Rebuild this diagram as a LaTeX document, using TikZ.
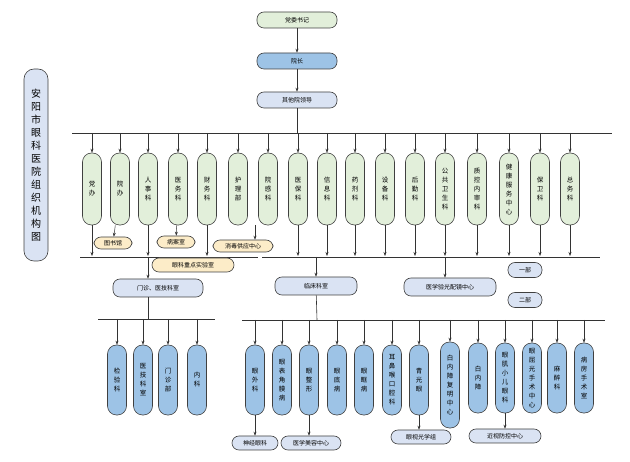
\documentclass[tikz,border=0pt]{standalone}
\usepackage{fontspec}
\setmainfont{Noto Sans CJK SC}
\usetikzlibrary{arrows.meta}
\definecolor{gr}{RGB}{226,239,218}
\definecolor{bl}{RGB}{157,195,230}
\definecolor{lb}{RGB}{218,227,243}
\definecolor{ye}{RGB}{252,236,200}
\begin{document}
\begin{tikzpicture}[x=1pt,y=-1pt,
 base/.style={draw=black!75,line width=0.6pt,rounded corners=7pt,inner sep=0pt,align=center,font=\fontsize{6}{7}\selectfont},
 hbox/.style={base,minimum height=16pt},
 pil/.style={base,minimum width=19pt,minimum height=72pt,rounded corners=9pt,font=\fontsize{6.5}{9}\selectfont},
 green/.style={fill=gr},blue/.style={fill=bl},lblue/.style={fill=lb},yel/.style={fill=ye},
 ar/.style={-{Stealth[length=4pt,width=3pt]},black!80,line width=0.5pt},
 ln/.style={black!80,line width=0.6pt}]
\useasboundingbox (0,0) rectangle (630,462);
% title
\node[base,lblue,rounded corners=10pt,minimum width=24pt,minimum height=192pt,font=\fontsize{10}{13}\selectfont] (title) at (36,165) {安\\阳\\市\\眼\\科\\医\\院\\组\\织\\机\\构\\图};
% top chain
\node[hbox,green,minimum width=80pt] (sj) at (297,20) {党委书记};
\node[hbox,blue,minimum width=80pt] (yz) at (297,61) {院长};
\node[hbox,lblue,minimum width=80pt] (qt) at (297,100) {其他院领导};
\draw[ar] (sj) -- (yz);
\draw[ar] (yz) -- (qt);
\coordinate (b1) at (297,133);
\draw[ln] (qt) -- (b1);
\draw[ln] (72,133) -- (612,133);
% top row
\foreach \n/\x/\t in {a/92/党\\办, b/120/院\\办, c/148/人\\事\\科, d/178/医\\务\\科, e/207/财\\务\\科, f/238/护\\理\\部, g/268/院\\感\\科, h/298/医\\保\\科, i/327/信\\息\\科, j/355/药\\剂\\科, k/385/设\\备\\科, l/415/后\\勤\\科, m/445/公\\共\\卫\\生\\科, n/477/质\\控\\内\\审\\科, o/509/健\\康\\服\\务\\中\\心, p/540/保\\卫\\科, q/570/总\\务\\科}{
  \node[pil,green] (\n) at (\x,189) {\t};
  \coordinate (\n t) at (\x,133);
  \draw[ar] (\n t) -- (\n);
}
\draw[ln] (80,257) -- (258,257);
\draw[ln] (262,257) -- (600,257);
% yellow
\node[hbox,yel,minimum width=38pt,minimum height=12pt] (tsg) at (113,243) {图书馆};
\node[hbox,yel,minimum width=38pt,minimum height=12pt] (bas) at (176,242) {病案室};
\node[hbox,yel,minimum width=60pt,minimum height=12pt] (xd) at (243,246) {消毒供应中心};
\node[hbox,yel,minimum width=82pt,minimum height=14pt] (sys) at (193,265) {眼科重点实验室};
\draw[ar] (b) -- (tsg);
\draw[ar] (d) -- (bas);
\coordinate (xdt) at (255,225);
\draw[ar] (xdt) -- (xd.north -| xdt);
\foreach \n/\x in {a/92,c/148,e/207,h/298,i/327,j/355,k/385,l/415,m/445,n/477,o/509,p/540,q/570}{
  \coordinate (\n b) at (\x,256);
  \draw[ar] (\n.south) -- (\n b);
}
% second level
\node[hbox,lblue,minimum width=90pt,minimum height=18pt] (mz) at (158,288) {门诊、医技科室};
\node[hbox,lblue,minimum width=82pt,minimum height=18pt] (lc) at (316,286) {临床科室};
\node[hbox,lblue,minimum width=92pt,minimum height=18pt] (yg) at (450,287) {医学验光配镜中心};
\node[hbox,lblue,minimum width=34pt,minimum height=15pt] (yb) at (525,270) {一部};
\node[hbox,lblue,minimum width=34pt,minimum height=15pt] (eb) at (525,300) {二部};
\coordinate (mzt) at (148,257); \draw[ar] (mzt) -- (mz.north -| mzt);
\coordinate (lct) at (316,257); \draw[ar] (lct) -- (lc);
\coordinate (ygt) at (445,257); \draw[ar] (ygt) -- (yg.north -| ygt);
% left lower
\coordinate (lb) at (148,319);
\draw[ln] (mz.south -| lb) -- (lb);
\draw[ln] (98,319) -- (215,319);
\foreach \n/\x/\t in {L1/117/检\\验\\科, L2/143/医\\技\\科\\室, L3/168/门\\诊\\部, L4/197/内\\科}{
  \node[pil,blue,minimum height=70pt] (\n) at (\x,380) {\t};
  \coordinate (\n t) at (\x,319);
  \draw[ar] (\n t) -- (\n);
}
% right lower
\coordinate (rb) at (317,320);
\draw[ln] (lc) -- (rb);
\draw[ln] (242,320) -- (605,320);
\foreach \n/\x/\y/\h/\t in {R1/255/380/70/眼\\外\\科, R2/282/380/70/眼\\表\\角\\膜\\病, R3/309/380/70/眼\\整\\形, R4/337/380/70/眼\\底\\病, R5/364/380/70/眼\\眶\\病, R6/392/380/70/耳\\鼻\\喉\\口\\腔\\科, R7/419/380/70/青\\光\\眼, R8/450/385/86/白\\内\\障\\复\\明\\中\\心, R9/478/378/70/白\\内\\障, R10/505/378/70/眼\\肌\\小\\儿\\眼\\科, R11/532/378/70/眼\\屈\\光\\手\\术\\中\\心, R12/557/378/70/麻\\醉\\科, R13/584/378/70/病\\房\\手\\术\\室}{
  \node[pil,blue,minimum height=\h pt] (\n) at (\x,\y) {\t};
  \coordinate (\n t) at (\x,320);
  \draw[ar] (\n t) -- (\n);
}
\node[hbox,lblue,minimum width=46pt,minimum height=14pt] (sj2) at (255,443) {神经眼科};
\node[hbox,lblue,minimum width=60pt,minimum height=14pt] (mr) at (311,443) {医学美容中心};
\node[hbox,lblue,minimum width=60pt,minimum height=14pt] (sg) at (421,437) {眼视光学组};
\node[hbox,lblue,minimum width=72pt,minimum height=14pt] (js) at (505,436) {近视防控中心};
\draw[ar] (R1) -- (sj2);
\draw[ar] (R3) -- (R3 |- mr.north);
\draw[ar] (R7) -- (R7 |- sg.north);
\draw[ar] (R10) -- (js);
\end{tikzpicture}
\end{document}
